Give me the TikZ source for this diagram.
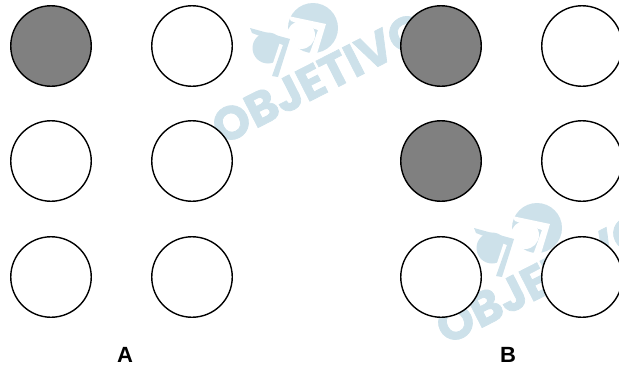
\documentclass[tikz,border=0pt]{standalone}
\usepackage{fontspec}
\setmainfont{Liberation Sans}
\newfontfamily\wmfont[BoldFeatures={FakeBold=1.5}]{Poppins}
\definecolor{wmblue}{HTML}{CDE1EA}
\definecolor{discgray}{HTML}{808080}
\tikzset{
  disc/.style={circle,draw=black,line width=1.4pt,fill=white,minimum size=80.5pt,inner sep=0pt},
  fulldisc/.style={disc,fill=discgray},
  panel/.style={font=\bfseries\fontsize{22}{22}\selectfont,text=black,inner sep=0pt},
  wmtext/.style={font=\wmfont\bfseries\fontsize{47}{47}\selectfont,text=wmblue,inner sep=0pt,rotate=27}
}
% watermark, drawn twice
\newcommand{\wmark}[1]{%
\fill[wmblue] (313,28) circle (25);
\fill[white] (288,16) -- (326,24) -- (316,57) -- (309,55) -- (318,30) -- (291,21) -- cycle;
\fill[white] (301,35) circle (14);
\fill[wmblue] (268,48) circle (15.5);
\fill[white] (280,42) -- (290,41) -- (277,72) -- (272,66) -- cycle;
\fill[wmblue] (250,28) -- (290,39) -- (278,77) -- (272,76) -- (283,45) -- (252,33) -- cycle;
\node[wmtext] (#1) at (319,78) {OBJETIVO};
}
\begin{document}
\begin{tikzpicture}[x=1pt,y=-1pt]
\useasboundingbox (0,0) rectangle (619,367);
\clip (0,0) rectangle (619,367);
\wmark{wma}
\begin{scope}[shift={(224,200)}]
\wmark{wmb}
\end{scope}
\node[fulldisc] (a1) at (51,46) {};
\node[disc] (a2) at (192,46) {};
\node[disc] (a3) at (51,161) {};
\node[disc] (a4) at (192,161) {};
\node[disc] (a5) at (51,277) {};
\node[disc] (a6) at (192,277) {};
\node[fulldisc] (b1) at (441,46) {};
\node[disc] (b2) at (582,46) {};
\node[fulldisc] (b3) at (441,161) {};
\node[disc] (b4) at (582,161) {};
\node[disc] (b5) at (441,277) {};
\node[disc] (b6) at (582,277) {};
\node[panel] (lba) at (125,355) {A};
\node[panel] (lbb) at (508,355) {B};
\end{tikzpicture}
\end{document}
